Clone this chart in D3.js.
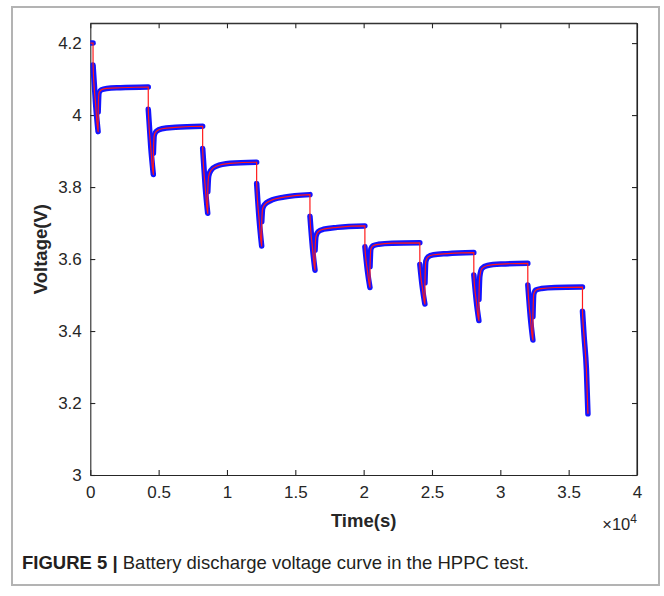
<!DOCTYPE html>
<html>
<head>
<meta charset="utf-8">
<script src="https://cdn.jsdelivr.net/npm/d3@7"></script>
<style>
  body { margin: 0; background: #fff; }
  svg { display: block; font-family: 'Liberation Sans', Arial, Helvetica, sans-serif; }
</style>
</head>
<body>
<svg id="chart"></svg>
<script>
// time stamps of the HPPC test (s)
const timeS = [
    0, 200,
    202, 385, 570, 576, 640, 800, 1200, 2200, 4240,
    4242, 4425, 4610, 4616, 4680, 4840, 5240, 6240, 8220,
    8222, 8405, 8590, 8596, 8660, 8820, 9220, 10220, 12170,
    12172, 12355, 12540, 12546, 12610, 12770, 13170, 14170, 16070,
    16072, 16255, 16440, 16446, 16510, 16670, 17070, 18070, 20090,
    20092, 20275, 20460, 20466, 20530, 20690, 21090, 22090, 24110,
    24112, 24295, 24480, 24486, 24550, 24710, 25110, 26110, 28060,
    28062, 28245, 28430, 28436, 28500, 28660, 29060, 30060, 32010,
    32012, 32195, 32380, 32386, 32450, 32610, 33010, 34010, 36010,
    36012, 36130, 36300, 36410
];

// terminal voltage (V)
const voltageV = [
    4.200, 4.200,
    4.139, 4.032, 3.954, 4.009, 4.062, 4.070, 4.074, 4.076, 4.078,
    4.016, 3.911, 3.835, 3.894, 3.944, 3.955, 3.962, 3.966, 3.969,
    3.907, 3.803, 3.727, 3.787, 3.830, 3.846, 3.858, 3.866, 3.869,
    3.810, 3.709, 3.636, 3.704, 3.740, 3.752, 3.762, 3.772, 3.779,
    3.719, 3.632, 3.569, 3.625, 3.663, 3.676, 3.683, 3.688, 3.692,
    3.634, 3.568, 3.521, 3.579, 3.628, 3.637, 3.641, 3.644, 3.645,
    3.585, 3.521, 3.475, 3.534, 3.594, 3.606, 3.612, 3.615, 3.618,
    3.556, 3.482, 3.429, 3.488, 3.552, 3.574, 3.582, 3.586, 3.588,
    3.528, 3.439, 3.375, 3.440, 3.503, 3.514, 3.518, 3.521, 3.522,
    3.455, 3.385, 3.292, 3.170
];

// the measured trace (blue dots) has no samples across the instant jumps
const measuredBreaksS = [
    202, 576, 4242, 4616, 8222, 8596, 12172, 12546, 16072, 16446,
    20092, 20466, 24112, 24486, 28062, 28436, 32012, 32386, 36012
];

const xTicks = [0, 5000, 10000, 15000, 20000, 25000, 30000, 35000, 40000];
const yTicks = [3, 3.2, 3.4, 3.6, 3.8, 4, 4.2];

class VoltageChart {
    constructor(_config, _data) {
        this.config = {
            parentElement: _config.parentElement,
            containerWidth: _config.containerWidth || 664,
            containerHeight: _config.containerHeight || 596,
            margin: { top: 23.3, right: 27, bottom: 121, left: 90.3 }
        }
        this.data = _data;
        this.initVis();
    }

    initVis() {
        let vis = this;

        vis.width = vis.config.containerWidth - vis.config.margin.left - vis.config.margin.right;
        vis.height = vis.config.containerHeight - vis.config.margin.top - vis.config.margin.bottom;

        vis.xScale = d3.scaleLinear()
            .domain([0, 40000])
            .range([0, vis.width]);

        vis.yScale = d3.scaleLinear()
            .domain([3, 4.255])
            .range([vis.height, 0]);

        vis.svg = d3.select(vis.config.parentElement)
            .attr('width', vis.config.containerWidth)
            .attr('height', vis.config.containerHeight);

        // outer figure frame
        vis.svg.append('rect')
            .attr('x', 12)
            .attr('y', 7)
            .attr('width', 647)
            .attr('height', 578)
            .attr('fill', 'none')
            .attr('stroke', '#b3b3b3')
            .attr('stroke-width', 2);

        vis.chart = vis.svg.append('g')
            .attr('transform', `translate(${vis.config.margin.left},${vis.config.margin.top})`);

        vis.chart.append('clipPath')
            .attr('id', 'plot-clip')
            .append('rect')
            .attr('width', vis.width)
            .attr('height', vis.height);

        vis.xAxisG = vis.chart.append('g')
            .attr('class', 'axis x-axis')
            .attr('transform', `translate(0,${vis.height})`);
        vis.xAxisTopG = vis.chart.append('g').attr('class', 'axis');
        vis.yAxisG = vis.chart.append('g').attr('class', 'axis y-axis');
        vis.yAxisRightG = vis.chart.append('g')
            .attr('class', 'axis')
            .attr('transform', `translate(${vis.width},0)`);

        vis.marks = vis.chart.append('g').attr('clip-path', 'url(#plot-clip)');

        vis.svg.append('text')
            .text('Voltage(V)')
            .attr('transform', `translate(46.5,${vis.config.margin.top + vis.height / 2}) rotate(-90)`)
            .attr('text-anchor', 'middle')
            .style('font-weight', 'bold')
            .style('font-size', '18.5px')
            .attr('fill', '#262626');

        vis.svg.append('text')
            .text('Time(s)')
            .attr('x', vis.config.margin.left + vis.width / 2)
            .attr('y', 527)
            .attr('text-anchor', 'middle')
            .style('font-weight', 'bold')
            .style('font-size', '18.5px')
            .attr('fill', '#262626');

        const expo = vis.svg.append('text')
            .attr('x', vis.config.margin.left + vis.width)
            .attr('y', 530)
            .attr('text-anchor', 'end')
            .style('font-size', '16.5px')
            .attr('fill', '#262626');
        expo.append('tspan').text('\u00d710');
        expo.append('tspan').text('4').attr('dy', -7).style('font-size', '12px');

        const caption = vis.svg.append('text')
            .attr('x', 22)
            .attr('y', 569)
            .style('font-size', '18.5px')
            .attr('fill', '#231f20');
        caption.append('tspan').text('FIGURE 5 | ').style('font-weight', 'bold');
        caption.append('tspan').text('Battery discharge voltage curve in the HPPC test.');

        vis.updateVis();
    }

    updateVis() {
        let vis = this;

        vis.points = vis.data.time.map((t, i) => ({ t: t, v: vis.data.voltage[i] }));

        // split the measured trace where the samples jump
        vis.segments = [];
        let current = [];
        vis.points.forEach(d => {
            if (vis.data.breaks.includes(d.t) && current.length) {
                vis.segments.push(current);
                current = [];
            }
            current.push(d);
        });
        vis.segments.push(current);

        vis.renderVis();
    }

    renderVis() {
        let vis = this;

        const line = d3.line()
            .x(d => vis.xScale(d.t))
            .y(d => vis.yScale(d.v))
            .curve(d3.curveMonotoneX);

        vis.marks.selectAll('.measured')
            .data(vis.segments)
            .join('path')
            .attr('class', 'measured')
            .attr('d', line)
            .attr('fill', 'none')
            .attr('stroke', '#1414ff')
            .attr('stroke-width', 5.5)
            .attr('stroke-linecap', 'round')
            .attr('stroke-linejoin', 'round');

        vis.marks.selectAll('.model')
            .data([vis.points])
            .join('path')
            .attr('class', 'model')
            .attr('d', line)
            .attr('fill', 'none')
            .attr('stroke', '#ff1a1a')
            .attr('stroke-width', 1.2);

        const fmt = d => d3.format('~g')(d);

        vis.xAxisG.call(d3.axisBottom(vis.xScale)
            .tickValues(xTicks)
            .tickSizeInner(-5)
            .tickSizeOuter(0)
            .tickPadding(11)
            .tickFormat(d => fmt(d / 10000)));
        vis.xAxisTopG.call(d3.axisTop(vis.xScale)
            .tickValues(xTicks)
            .tickSizeInner(-5)
            .tickSizeOuter(0)
            .tickFormat(''));
        vis.yAxisG.call(d3.axisLeft(vis.yScale)
            .tickValues(yTicks)
            .tickSizeInner(-5)
            .tickSizeOuter(0)
            .tickPadding(8.5)
            .tickFormat(fmt));
        vis.yAxisRightG.call(d3.axisRight(vis.yScale)
            .tickValues(yTicks)
            .tickSizeInner(-5)
            .tickSizeOuter(0)
            .tickFormat(''));

        vis.chart.selectAll('.axis path')
            .attr('stroke', '#262626')
            .attr('stroke-width', 1.1);
        vis.chart.selectAll('.axis line')
            .attr('stroke', '#262626')
            .attr('stroke-width', 1.1);
        vis.chart.selectAll('.axis text')
            .attr('fill', '#262626')
            .style('font-size', '17px')
            .style('font-family', "'Liberation Sans', Arial, sans-serif");

        // close the box: top and right edges
        vis.chart.selectAll('.box-edge')
            .data([[0, 0, vis.width, 0], [vis.width, 0, vis.width, vis.height]])
            .join('line')
            .attr('class', 'box-edge')
            .attr('x1', d => d[0]).attr('y1', d => d[1])
            .attr('x2', d => d[2]).attr('y2', d => d[3])
            .attr('stroke', '#262626')
            .attr('stroke-width', 1.1);
    }
}

new VoltageChart({ parentElement: '#chart' },
    { time: timeS, voltage: voltageV, breaks: measuredBreaksS });
</script>
</body>
</html>
